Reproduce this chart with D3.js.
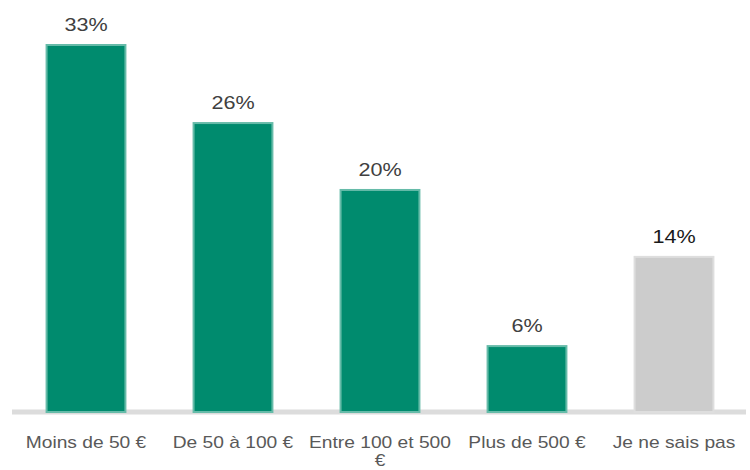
<!DOCTYPE html>
<html>
<head>
<meta charset="utf-8">
<script src="https://cdn.jsdelivr.net/npm/d3@7"></script>
<style>
  html, body { margin: 0; padding: 0; background: #fff; }
  svg { display: block; font-family: "Liberation Sans", Arial, sans-serif; }
</style>
</head>
<body>
<svg id="chart" width="750" height="470"></svg>
<script>
// Budget categories and the share of answers for each
const categories = ["Moins de 50 €", "De 50 à 100 €", "Entre 100 et 500 €", "Plus de 500 €", "Je ne sais pas"];
const values = [33, 26, 20, 6, 14];
const valueLabels = ["33%", "26%", "20%", "6%", "14%"];
const isUnknown = [false, false, false, false, true];

const svg = d3.select("#chart");
const W = 750;

const x = d3.scaleBand()
  .domain(categories)
  .range([12.5, 747.5])
  .paddingInner(0.45)
  .paddingOuter(0.225);

const y = d3.scaleLinear()
  .domain([0, 33])
  .range([412, 44]);

const STRETCH = 1.2;

// baseline
svg.append("line")
  .attr("x1", 12).attr("x2", 746)
  .attr("y1", y(0)).attr("y2", y(0))
  .attr("stroke", "#dcdcdc")
  .attr("stroke-width", 5);

// bars
svg.append("g").selectAll("rect")
  .data(categories)
  .join("rect")
  .attr("x", d => x(d) + 1)
  .attr("y", (d, i) => y(values[i]) + 1)
  .attr("width", x.bandwidth() - 2)
  .attr("height", (d, i) => y(0) - y(values[i]) - 1)
  .attr("fill", (d, i) => isUnknown[i] ? "#cccccc" : "#008b6e")
  .attr("stroke", (d, i) => isUnknown[i] ? "#dedede" : "#66bba9")
  .attr("stroke-width", 2);

// value labels
svg.append("g").selectAll("g")
  .data(categories)
  .join("g")
  .attr("transform", (d, i) => `translate(${x(d) + x.bandwidth() / 2},${y(values[i]) - 13}) scale(${STRETCH},1)`)
  .append("text")
  .attr("text-anchor", "middle")
  .attr("font-size", 18)
  .attr("fill", (d, i) => isUnknown[i] ? "#1a1a1a" : "#404040")
  .text((d, i) => valueLabels[i]);

// category labels, wrapped to the band step
const maxW = x.step() - 2;
const catG = svg.append("g").selectAll("g")
  .data(categories)
  .join("g")
  .attr("transform", d => `translate(${x(d) + x.bandwidth() / 2},448) scale(${STRETCH},1)`);

catG.each(function(d) {
  const g = d3.select(this);
  const text = g.append("text")
    .attr("text-anchor", "middle")
    .attr("font-size", 16)
    .attr("fill", "#595959");
  const words = d.split(" ");
  let line = [];
  let lineNo = 0;
  let tspan = text.append("tspan").attr("x", 0).attr("dy", 0);
  words.forEach(w => {
    line.push(w);
    tspan.text(line.join(" "));
    if (tspan.node().getComputedTextLength() * STRETCH > maxW && line.length > 1) {
      line.pop();
      tspan.text(line.join(" "));
      line = [w];
      lineNo++;
      tspan = text.append("tspan").attr("x", 0).attr("dy", 18).text(w);
    }
  });
});
</script>
</body>
</html>
